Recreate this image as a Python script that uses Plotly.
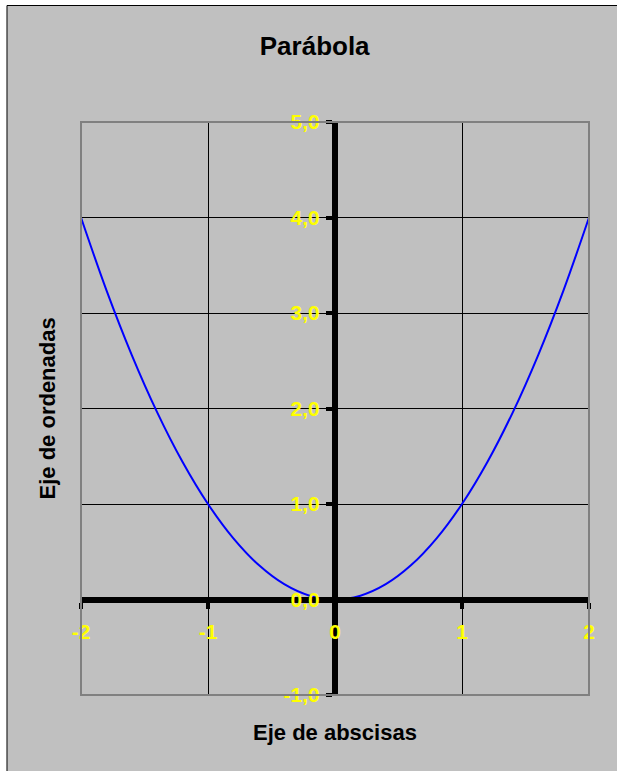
import plotly.graph_objects as go

# Valores (y = x^2)
x_vals = [-2.0, -1.8, -1.6, -1.4, -1.2, -1.0, -0.8, -0.6, -0.4, -0.2, 0.0,
          0.2, 0.4, 0.6, 0.8, 1.0, 1.2, 1.4, 1.6, 1.8, 2.0]
y_vals = [4.0, 3.24, 2.56, 1.96, 1.44, 1.0, 0.64, 0.36, 0.16, 0.04, 0.0,
          0.04, 0.16, 0.36, 0.64, 1.0, 1.44, 1.96, 2.56, 3.24, 4.0]

x_ticks = [-2, -1, 0, 1, 2]
x_labels = ["-2", "-1", "0", "1", "2"]
y_ticks = [-1, 0, 1, 2, 3, 4, 5]
y_labels = ["-1,0", "0,0", "1,0", "2,0", "3,0", "4,0", "5,0"]

title_text = "Parábola"
x_title = "Eje de abscisas"
y_title = "Eje de ordenadas"

FONT = "Liberation Sans, Arial, sans-serif"
GRAY = "#C0C0C0"

fig = go.Figure()

fig.add_trace(go.Scatter(
    x=x_vals, y=y_vals,
    mode="lines",
    line=dict(color="#0000FF", width=2, shape="spline", smoothing=1),
    showlegend=False,
    hoverinfo="skip",
))

tick_font = dict(family=FONT, size=21, color="#FFFF00", weight="bold")

fig.update_layout(
    width=617, height=771,
    margin=dict(l=81, r=28, t=122, b=76),
    paper_bgcolor=GRAY,
    plot_bgcolor=GRAY,
    showlegend=False,
    title=dict(
        text=title_text,
        xref="container", x=0.51, xanchor="center",
        yref="container", y=0.941, yanchor="middle",
        font=dict(family=FONT, size=26, color="black", weight="bold"),
    ),
    xaxis=dict(
        range=[-2, 2], tickvals=x_ticks, ticktext=x_labels,
        showgrid=True, gridcolor="black", gridwidth=1,
        zeroline=False,
        anchor="free", position=1 / 6,
        showline=True, linecolor="black", linewidth=6,
        ticks="outside", ticklen=6, tickwidth=4, tickcolor="black",
        ticklabelstandoff=5,
        tickfont=tick_font,
        fixedrange=True,
    ),
    yaxis=dict(
        range=[-1, 5], tickvals=y_ticks, ticktext=y_labels,
        showgrid=True, gridcolor="black", gridwidth=1,
        zeroline=False,
        anchor="free", position=0.5,
        showline=True, linecolor="black", linewidth=6,
        ticks="outside", ticklen=6, tickwidth=4, tickcolor="black",
        ticklabelstandoff=2,
        tickfont=tick_font,
        fixedrange=True,
    ),
    shapes=[
        # franjas blancas fuera del marco del gráfico
        dict(type="rect", xref="paper", yref="paper",
             x0=-0.16, x1=-0.1457, y0=-0.14, y1=1.214,
             fillcolor="white", line=dict(width=0), layer="below"),
        dict(type="rect", xref="paper", yref="paper",
             x0=-0.16, x1=1.06, y0=1.2033, y1=1.214,
             fillcolor="white", line=dict(width=0), layer="below"),
        # marco negro del gráfico (izquierda y arriba)
        dict(type="line", xref="paper", yref="paper",
             x0=-0.1457, x1=-0.1457, y0=-0.14, y1=1.2033,
             line=dict(color="black", width=1), layer="below"),
        dict(type="line", xref="paper", yref="paper",
             x0=-0.1457, x1=1.06, y0=1.2033, y1=1.2033,
             line=dict(color="black", width=1), layer="below"),
        # borde del área de trazado
        dict(type="rect", xref="paper", yref="paper",
             x0=0, x1=1, y0=0, y1=1,
             line=dict(color="#808080", width=2), layer="above"),
    ],
    annotations=[
        dict(text=x_title, xref="paper", yref="paper",
             x=0.5, y=-0.065, xanchor="center", yanchor="middle",
             showarrow=False,
             font=dict(family=FONT, size=22, color="black", weight="bold")),
        dict(text=y_title, xref="paper", yref="paper",
             x=-0.065, y=0.5, xanchor="center", yanchor="middle",
             textangle=-90, showarrow=False,
             font=dict(family=FONT, size=22, color="black", weight="bold")),
    ],
)

fig.write_html(
    "out.html",
    config={"displayModeBar": False},
    post_script="document.body.style.margin='0';document.body.style.overflow='hidden';",
)
